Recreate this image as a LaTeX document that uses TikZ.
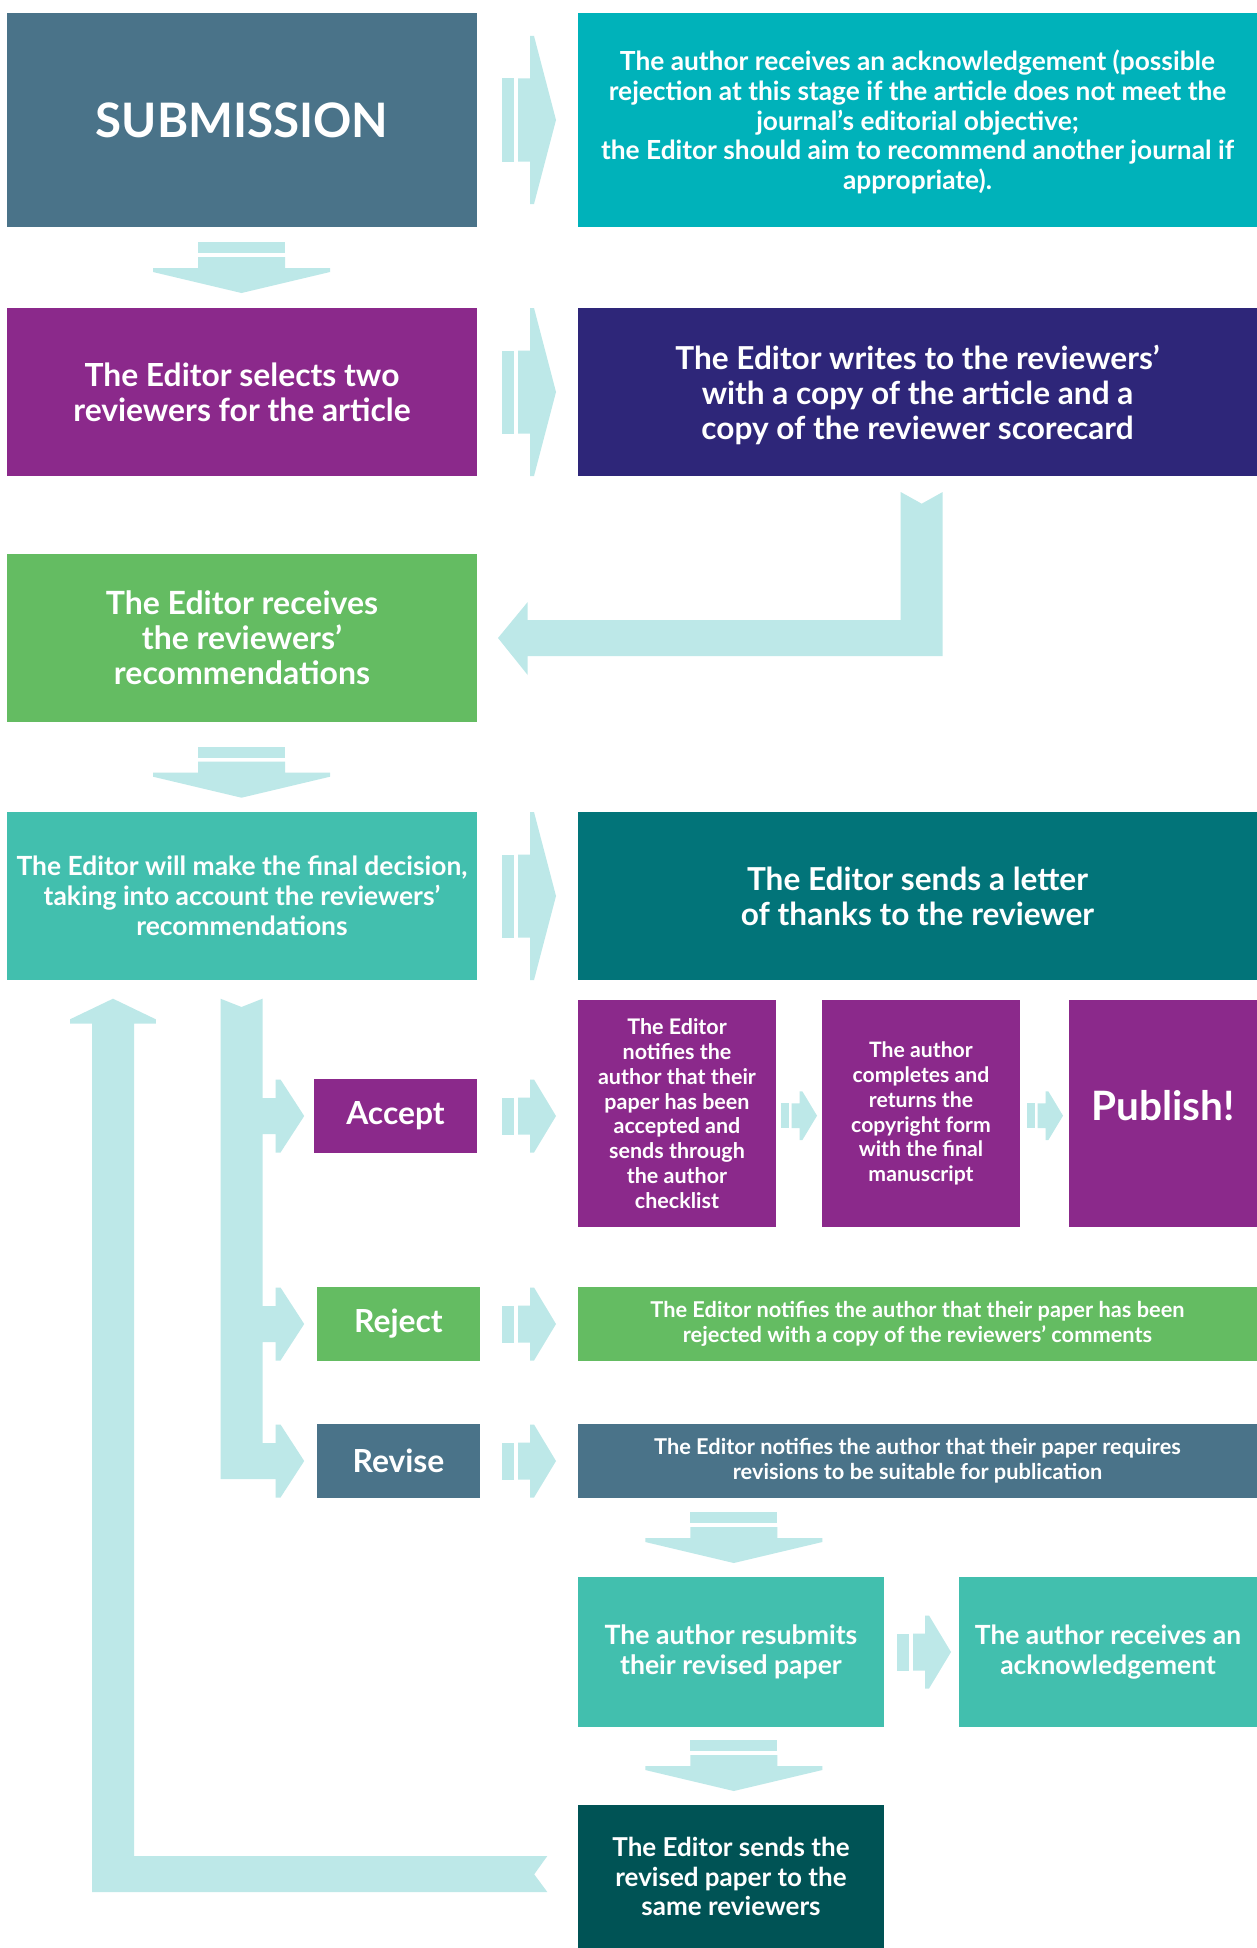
\documentclass[tikz,border=0pt]{standalone}
\usepackage{fontspec}
\setmainfont{Lato}
\usetikzlibrary{calc}
\definecolor{cSub}{RGB}{74,115,137}
\definecolor{cTeal}{RGB}{0,178,186}
\definecolor{cPurple}{RGB}{139,41,139}
\definecolor{cNavy}{RGB}{46,38,121}
\definecolor{cGreen}{RGB}{100,188,98}
\definecolor{cTurq}{RGB}{66,191,174}
\definecolor{cDTeal}{RGB}{2,116,121}
\definecolor{cDark}{RGB}{0,83,85}
\definecolor{cArr}{RGB}{189,232,232}
\newcommand\fs[2]{\fontsize{#1}{#2}\selectfont\bfseries}
\tikzset{
  box/.style={rectangle, inner sep=0pt, outer sep=0pt, text=white, align=center},
  arrfill/.style={fill=cArr, draw=none},
  bigR/.pic={
    \fill[arrfill] (0,-41.5) rectangle (12,41.5);
    \fill[arrfill] (16,-41.5) -- (28,-41.5) -- (28,-84) -- (32,-84) -- (54,0) -- (32,84) -- (28,84) -- (28,41.5) -- (16,41.5) -- cycle;
  },
  smallR/.pic={
    \fill[arrfill] (0,-18.5) rectangle (12,18.5);
    \fill[arrfill] (16,-18.5) -- (28,-18.5) -- (28,-36.5) -- (32,-36.5) -- (54,0) -- (32,36.5) -- (28,36.5) -- (28,18.5) -- (16,18.5) -- cycle;
  },
  downA/.pic={
    \fill[arrfill] (-43.5,0) rectangle (43.5,11);
    \fill[arrfill] (-43.5,15) -- (43.5,15) -- (43.5,26) -- (88.5,26) -- (88.5,30) -- (0,51) -- (-88.5,30) -- (-88.5,26) -- (-43.5,26) -- cycle;
  }
}
\begin{document}
\begin{tikzpicture}[x=1pt,y=-1pt]
\useasboundingbox[fill=white] (0,0) rectangle (1257,1948);

% ---------- boxes ----------
\node[box, fill=cSub, minimum width=470pt, minimum height=214pt, font=\fs{47.5}{56}] (sub) at (242,120) {SUBMISSION};
\node[box, fill=cTeal, minimum width=679pt, minimum height=214pt] (ack) at (917.5,120) {};
\node[box, font=\fs{26.3}{29.8}] (ackt) at ($(ack.center)+(0,2)$)
  {The author receives an acknowledgement (possible\\ rejection at this stage if the article does not meet the\\ journal’s editorial objective;\\ the Editor should aim to recommend another journal if\\ appropriate).};
\node[box, fill=cPurple, minimum width=470pt, minimum height=168pt, font=\fs{31.8}{35}] (sel) at (242,392)
  {The Editor selects two\\ reviewers for the article};
\node[box, fill=cNavy, minimum width=679pt, minimum height=168pt] (wri) at (917.5,392) {};
\node[box, font=\fs{31.6}{35}] (writ) at ($(wri.center)+(0,3)$)
  {The Editor writes to the reviewers’\\ with a copy of the article and a\\ copy of the reviewer scorecard};
\node[box, fill=cGreen, minimum width=470pt, minimum height=168pt, font=\fs{32}{35}] (rec) at (242,638)
  {The Editor receives\\ the reviewers’\\ recommendations};
\node[box, fill=cTurq, minimum width=470pt, minimum height=168pt, font=\fs{26.4}{29.8}] (fin) at (242,896)
  {The Editor will make the final decision,\\ taking into account the reviewers’\\ recommendations};
\node[box, fill=cDTeal, minimum width=679pt, minimum height=168pt, font=\fs{31.6}{35}] (thk) at (917.5,896)
  {The Editor sends a letter\\ of thanks to the reviewer};

\node[box, fill=cPurple, minimum width=163pt, minimum height=74pt, font=\fs{31.8}{35}] (acc) at (395.5,1116) {Accept};
\node[box, fill=cGreen, minimum width=163pt, minimum height=74pt, font=\fs{31.8}{35}] (rej) at (398.5,1324) {Reject};
\node[box, fill=cSub, minimum width=163pt, minimum height=74pt, font=\fs{31.8}{35}] (rev) at (398.5,1461) {Revise};

\node[box, fill=cPurple, minimum width=198pt, minimum height=227pt, font=\fs{21.5}{24.8}] (an1) at (677,1113.5)
  {The Editor\\ notifies the\\ author that their\\ paper has been\\ accepted and\\ sends through\\ the author\\ checklist};
\node[box, fill=cPurple, minimum width=198pt, minimum height=227pt, font=\fs{21.2}{24.8}] (an2) at (921,1113.5)
  {The author\\ completes and\\ returns the\\ copyright form\\ with the final\\ manuscript};
\node[box, fill=cPurple, minimum width=188pt, minimum height=227pt] (pub) at (1163,1113.5) {};
\node[text=white, font=\fs{40.5}{44}, inner sep=0pt] (pubt) at ($(pub.center)+(0,-8)$) {Publish!};

\node[box, fill=cGreen, minimum width=679pt, minimum height=74pt, font=\fs{21.8}{24.8}] (rjt) at (917.5,1324)
  {The Editor notifies the author that their paper has been\\ rejected with a copy of the reviewers’ comments};
\node[box, fill=cSub, minimum width=679pt, minimum height=74pt, font=\fs{21.8}{24.8}] (rvt) at (917.5,1461)
  {The Editor notifies the author that their paper requires\\ revisions to be suitable for publication};

\node[box, fill=cTurq, minimum width=306pt, minimum height=150pt, font=\fs{26.6}{29.8}] (res) at (731,1652)
  {The author resubmits\\ their revised paper};
\node[box, fill=cTurq, minimum width=298pt, minimum height=150pt, font=\fs{26.4}{29.8}] (ack2) at (1108,1652)
  {The author receives an\\ acknowledgement};
\node[box, fill=cDark, minimum width=306pt, minimum height=143pt, font=\fs{26}{29.8}] (snd) at (731,1876.5)
  {The Editor sends the\\ revised paper to the\\ same reviewers};

% ---------- straight connectors ----------
\pic at ($(sub.east)+(25,0)$) {bigR};
\pic at ($(sel.east)+(25,0)$) {bigR};
\pic at ($(fin.east)+(25,0)$) {bigR};
\pic at ($(sub.south)+(-0.5,15)$) {downA};
\pic at ($(rec.south)+(-0.5,24.7)$) {downA};
\pic at ($(res.north)+(2.8,-65)$) {downA};
\pic at ($(res.south)+(2.8,13)$) {downA};

\pic at ($(sub.east |- acc.east)+(25,0)$) {smallR};
\pic at ($(sub.east |- rej.east)+(25,0)$) {smallR};
\pic at ($(sub.east |- rev.east)+(25,0)$) {smallR};
\pic at ($(res.east)+(13,0)$) {smallR};
\pic[scale=0.667] at ($(an1.east)+(5,2.2)$) {smallR};
\pic[scale=0.667] at ($(an2.east)+(7,2.2)$) {smallR};

% ---------- elbow: reviewers -> editor receives ----------
\coordinate (vx) at ($(wri.south)+(4.2,0)$);
\fill[arrfill] ($(vx)+(-21,16)$) -- ($(vx)+(0,27.7)$) -- ($(vx)+(21,16)$)
  -- ($(vx |- rec.east)+(21,18)$) -- ($(rec.east)+(50.7,18)$) -- ($(rec.east)+(50.7,37)$)
  -- ($(rec.east)+(21,0)$) -- ($(rec.east)+(50.7,-36)$) -- ($(rec.east)+(50.7,-18)$)
  -- ($(vx |- rec.east)+(-21,-18)$) -- cycle;

% ---------- decision branches ----------
\coordinate (dx) at ($(fin.south)+(-0.5,0)$);
\coordinate (ca) at (dx |- acc.west);
\coordinate (cj) at (dx |- rej.west);
\coordinate (cv) at (dx |- rev.west);
\fill[arrfill] ($(dx)+(-21,18.7)$) -- ($(dx)+(0,27)$) -- ($(dx)+(21,18.7)$)
  -- ($(ca)+(21,-18)$) -- ($(ca)+(34,-18)$) -- ($(ca)+(34,-36.5)$) -- ($(ca)+(39,-36.5)$) -- ($(ca)+(62.7,0)$)
  -- ($(ca)+(39,36.5)$) -- ($(ca)+(34,36.5)$) -- ($(ca)+(34,18)$) -- ($(ca)+(21,18)$)
  -- ($(cj)+(21,-18)$) -- ($(cj)+(34,-18)$) -- ($(cj)+(34,-36.5)$) -- ($(cj)+(39,-36.5)$) -- ($(cj)+(62.7,0)$)
  -- ($(cj)+(39,36.5)$) -- ($(cj)+(34,36.5)$) -- ($(cj)+(34,18)$) -- ($(cj)+(21,18)$)
  -- ($(cv)+(21,-18)$) -- ($(cv)+(34,-18)$) -- ($(cv)+(34,-36.5)$) -- ($(cv)+(39,-36.5)$) -- ($(cv)+(62.7,0)$)
  -- ($(cv)+(39,36.5)$) -- ($(cv)+(34,36.5)$) -- ($(cv)+(34,18)$) -- ($(cv)+(-21,18)$) -- cycle;

% ---------- loop back: same reviewers -> final decision ----------
\coordinate (ux) at ($(fin.south)+(-129,0)$);
\coordinate (hy) at ($(ux |- snd.west)+(0,-2.5)$);
\fill[arrfill] ($(hy)+(-21,18)$) -- ($(snd.west)+(-30.7,15.5)$) -- ($(snd.west)+(-43.8,-2.2)$)
  -- ($(snd.west)+(-30.7,-20.5)$) -- ($(hy)+(21,-18)$) -- ($(ux)+(21,43.7)$)
  -- ($(ux)+(42.8,43.7)$) -- ($(ux)+(42.8,39.3)$) -- ($(ux)+(0,18.7)$)
  -- ($(ux)+(-43,39.3)$) -- ($(ux)+(-43,43.7)$) -- ($(ux)+(-21,43.7)$) -- cycle;
\end{tikzpicture}
\end{document}
